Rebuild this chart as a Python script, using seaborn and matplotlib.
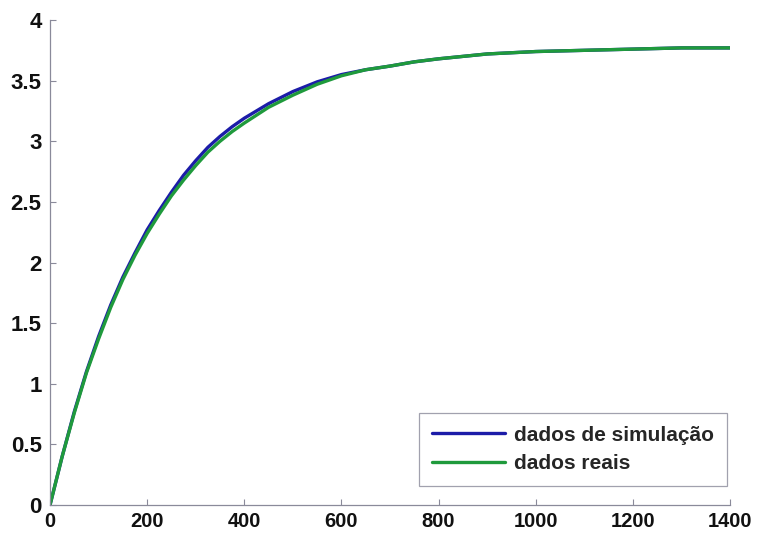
import matplotlib
matplotlib.use("Agg")
import matplotlib.pyplot as plt
import seaborn as sns
import pandas as pd

x_vals = [0, 25, 50, 75, 100, 125, 150, 175, 200, 225, 250, 275, 300, 325, 350,
          375, 400, 450, 500, 550, 600, 650, 700, 750, 800, 900, 1000, 1100,
          1200, 1300, 1400]
sim_vals = [0, 0.40, 0.77, 1.10, 1.39, 1.65, 1.88, 2.08, 2.27, 2.43, 2.58, 2.72,
            2.84, 2.95, 3.04, 3.12, 3.19, 3.31, 3.41, 3.49, 3.55, 3.59, 3.62,
            3.655, 3.68, 3.72, 3.74, 3.75, 3.76, 3.77, 3.77]
real_vals = [0, 0.40, 0.76, 1.09, 1.37, 1.63, 1.86, 2.06, 2.24, 2.40, 2.55, 2.68,
             2.80, 2.91, 3.00, 3.08, 3.15, 3.28, 3.38, 3.47, 3.54, 3.59, 3.62,
             3.655, 3.68, 3.72, 3.74, 3.75, 3.76, 3.77, 3.77]
series_names = ["dados de simulação", "dados reais"]
x_ticks = [0, 200, 400, 600, 800, 1000, 1200, 1400]
y_ticks = [0, 0.5, 1, 1.5, 2, 2.5, 3, 3.5, 4]
y_tick_labels = ["0", "0.5", "1", "1.5", "2", "2.5", "3", "3.5", "4"]

df = pd.DataFrame({
    "x": x_vals * 2,
    "y": sim_vals + real_vals,
    "serie": [series_names[0]] * len(x_vals) + [series_names[1]] * len(x_vals),
})

sns.set_style("ticks")
plt.rcParams["font.family"] = ["Liberation Sans", "DejaVu Sans"]

fig = plt.figure(figsize=(7.59, 5.38), dpi=100)
ax = fig.add_axes([0.0659, 0.0613, 0.8959, 0.9015])

sns.lineplot(data=df, x="x", y="y", hue="serie", hue_order=series_names,
             palette=["#1c1ca8", "#1f9a3c"], linewidth=2.4, ax=ax, sort=False)

ax.set_xlim(0, 1400)
ax.set_ylim(0, 4)
ax.set_xticks(x_ticks)
ax.set_xticklabels([str(t) for t in x_ticks])
ax.set_yticks(y_ticks)
ax.set_yticklabels(y_tick_labels)
ax.set_xlabel("")
ax.set_ylabel("")
sns.despine(ax=ax)
for s in ["left", "bottom"]:
    ax.spines[s].set_color("#8a8a9a")
    ax.spines[s].set_linewidth(0.9)
ax.tick_params(direction="in", length=4, color="#8a8a9a", labelcolor="#111111")
ax.tick_params(axis="y", pad=6, labelsize=16)
ax.tick_params(axis="x", pad=5, labelsize=14.5)
for lab in ax.get_xticklabels() + ax.get_yticklabels():
    lab.set_fontweight("bold")

leg = ax.legend(loc="lower right", bbox_to_anchor=(0.995, 0.04), borderaxespad=0,
                fontsize=15, frameon=True, fancybox=False, handlelength=3.5,
                handletextpad=0.45, borderpad=0.6, labelspacing=0.45)
leg.get_frame().set_edgecolor("#8a8a9a")
leg.get_frame().set_linewidth(0.9)
for t in leg.get_texts():
    t.set_fontweight("bold")

fig.savefig("out.png", dpi=100)
